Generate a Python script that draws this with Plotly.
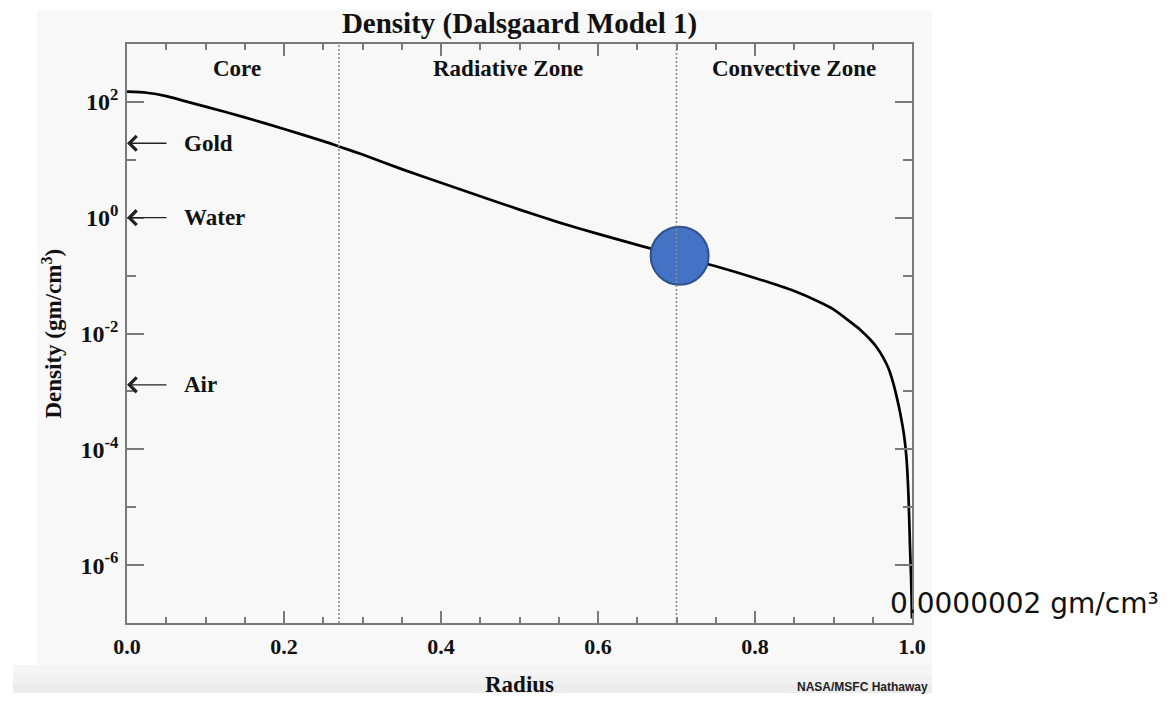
import numpy as np
import plotly.graph_objects as go

# ---------------- data ----------------
radius = [0.0, 0.025, 0.05, 0.075, 0.10, 0.15, 0.20, 0.25, 0.27, 0.30, 0.35, 0.40,
          0.45, 0.50, 0.55, 0.60, 0.65, 0.70, 0.75, 0.80, 0.85, 0.88, 0.90, 0.921,
          0.935, 0.947, 0.955, 0.963, 0.970, 0.976, 0.981, 0.985, 0.990, 0.993, 0.9955,
          0.9975, 0.999, 1.0]
density = [150, 144, 126, 102, 83, 54, 34, 21, 17, 12.3, 6.9, 4.0,
           2.35, 1.38, 0.83, 0.525, 0.34, 0.22, 0.145, 0.091, 0.054, 0.036, 0.026, 0.016,
           0.0113, 0.0078, 0.0058, 0.0039, 0.0025, 0.0014, 0.00075, 0.00042, 0.00017, 0.00007,
           0.000016, 0.000002, 0.0000005, 0.00000012]

zone_bounds = [0.27, 0.70]
zone_names = ["Core", "Radiative Zone", "Convective Zone"]
zone_centers = [0.14, 0.485, 0.85]

ref_names = ["Gold", "Water", "Air"]
ref_density = [19.3, 1.0, 0.0013]

marker_radius = [0.704]
marker_density = [0.22]

x_ticks = [0.0, 0.2, 0.4, 0.6, 0.8, 1.0]
x_minor = [0.05, 0.1, 0.15, 0.25, 0.3, 0.35, 0.45, 0.5, 0.55, 0.65, 0.7, 0.75, 0.85, 0.9, 0.95]
y_ticks = [1e-6, 1e-4, 1e-2, 1e0, 1e2]
y_ticktext = ["10<sup>-6</sup>", "10<sup>-4</sup>", "10<sup>-2</sup>", "10<sup>0</sup>", "10<sup>2</sup>"]
y_minor = [1e-5, 1e-3, 1e-1, 1e1]

# ---------------- geometry helpers ----------------
W, H = 1173, 723
L, R, T, B = 127, 261, 44, 100
PW, PH = W - L - R, H - T - B


def px2paper_x(px):
    return (px - L) / PW


def px2paper_y(py):
    return (H - B - py) / PH


SERIF = "Liberation Serif, Times New Roman, serif"
AXC = "#7a7a7a"
TXT = "#111111"

fig = go.Figure()

fig.add_trace(go.Scatter(x=radius, y=density, mode="lines",
                         line=dict(color="black", width=2.7, shape="spline", smoothing=0.6),
                         hoverinfo="skip", showlegend=False))

fig.add_trace(go.Scatter(x=marker_radius, y=marker_density, mode="markers",
                         marker=dict(size=58, color="#4472C4", line=dict(color="#2F528F", width=2)),
                         showlegend=False, cliponaxis=False))

shapes = []
# background panel (screenshot-like grey)
shapes.append(dict(type="rect", xref="paper", yref="paper", layer="below",
                   x0=px2paper_x(37), x1=px2paper_x(932), y0=px2paper_y(665), y1=px2paper_y(10),
                   fillcolor="#f8f8f8", line=dict(width=0)))
band = [(665, 675, "#f5f5f5"), (675, 684, "#f1f1f1"), (684, 693, "#ececec")]
for y0, y1, c in band:
    shapes.append(dict(type="rect", xref="paper", yref="paper", layer="below",
                       x0=px2paper_x(13), x1=px2paper_x(932), y0=px2paper_y(y1), y1=px2paper_y(y0),
                       fillcolor=c, line=dict(width=0)))
for xb in zone_bounds:
    shapes.append(dict(type="line", xref="x", yref="paper", x0=xb, x1=xb, y0=0, y1=1,
                       line=dict(color="#8a8a8a", width=1.6, dash="2px,2px")))

annotations = []
for name, xc in zip(zone_names, zone_centers):
    annotations.append(dict(text=name, x=xc, xref="x", y=px2paper_y(68), yref="paper",
                            showarrow=False, xanchor="center", yanchor="middle",
                            font=dict(family=SERIF, size=23, color=TXT, weight="bold")))
for name, val in zip(ref_names, ref_density):
    annotations.append(dict(text=name, x=px2paper_x(182), xref="paper", y=np.log10(val), yref="y",
                            showarrow=False, xanchor="left", yanchor="middle",
                            font=dict(family=SERIF, size=23, color=TXT, weight="bold")))
    annotations.append(dict(text=" ", x=0, xref="x", y=np.log10(val), yref="y",
                            showarrow=True, ax=40, ay=0, arrowhead=4, arrowsize=2.2,
                            arrowwidth=1.3, arrowcolor="#222222", standoff=0, borderpad=0,
                            font=dict(size=1)))
# axis titles
annotations.append(dict(text="Radius", x=0.5, xref="paper", y=px2paper_y(684), yref="paper",
                        showarrow=False, xanchor="center", yanchor="middle",
                        font=dict(family=SERIF, size=23, color=TXT, weight="bold")))
annotations.append(dict(text="Density (gm/cm<sup>3</sup>)", x=px2paper_x(52), xref="paper", y=0.5,
                        yref="paper", showarrow=False, textangle=-90, xanchor="center",
                        yanchor="middle",
                        font=dict(family=SERIF, size=23, color=TXT, weight="bold")))
# credit and value annotation
annotations.append(dict(text="NASA/MSFC Hathaway", x=px2paper_x(930), xref="paper",
                        y=px2paper_y(687), yref="paper", showarrow=False, xanchor="right",
                        yanchor="middle",
                        font=dict(family="Liberation Sans Narrow, Liberation Sans, Arial", size=12,
                                  color="#222222", weight="bold")))
annotations.append(dict(text="0.0000002 gm/cm³", x=px2paper_x(888), xref="paper",
                        y=px2paper_y(603), yref="paper", showarrow=False, xanchor="left",
                        yanchor="middle",
                        font=dict(family="DejaVu Sans, sans-serif", size=28, color="#111111")))

fig.update_layout(
    width=W, height=H,
    margin=dict(l=L, r=R, t=T, b=B, autoexpand=False),
    paper_bgcolor="white", plot_bgcolor="#f8f8f8",
    title=dict(text="Density (Dalsgaard Model 1)", x=0.5, xref="paper", xanchor="center",
               y=1 - 23 / H, yanchor="middle",
               font=dict(family=SERIF, size=29, color=TXT, weight="bold")),
    shapes=shapes, annotations=annotations, showlegend=False,
)

fig.update_xaxes(range=[0, 1], showgrid=False, zeroline=False, showline=True, linecolor=AXC,
                 linewidth=1.5, mirror="ticks", ticks="inside", ticklen=12, tickwidth=1.5,
                 tickcolor=AXC, tickvals=x_ticks, ticktext=[f"{v:.1f}" for v in x_ticks],
                 tickfont=dict(family=SERIF, size=22, color=TXT, weight="bold"),
                 ticklabelstandoff=3,
                 minor=dict(tickvals=x_minor, ticks="inside", ticklen=6, tickwidth=1.5, tickcolor=AXC,
                            showgrid=False))
fig.update_yaxes(type="log", range=[-7, 3], showgrid=False, zeroline=False, showline=True,
                 linecolor=AXC, linewidth=1.5, mirror="ticks", ticks="inside", ticklen=17,
                 tickwidth=1.5, tickcolor=AXC, tickvals=y_ticks, ticktext=y_ticktext,
                 tickfont=dict(family=SERIF, size=24, color=TXT, weight="bold"),
                 ticklabelstandoff=2,
                 minor=dict(tickvals=y_minor, ticks="inside", ticklen=9, tickwidth=1.5, tickcolor=AXC,
                            showgrid=False))

fig.write_html("out.html")
